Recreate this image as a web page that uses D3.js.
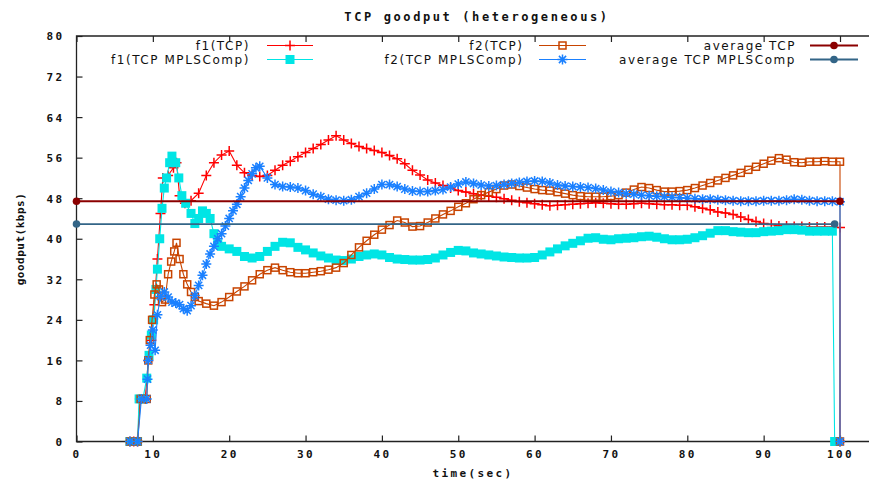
<!DOCTYPE html>
<html>
<head>
<meta charset="utf-8">
<script src="https://cdn.jsdelivr.net/npm/d3@7"></script>
<style>
body { margin: 0; background: #fff; }
svg { display: block; }
.mono { font-family: "DejaVu Sans Mono", monospace; font-weight: bold; font-size: 11px; letter-spacing: 2.4px; fill: #111; }
.key { font-family: "DejaVu Sans", sans-serif; font-size: 12px; letter-spacing: 1.55px; fill: #111; }
</style>
</head>
<body>
<svg id="chart" width="869" height="481"></svg>
<script>
// ---- data (time in sec, goodput in kbps)
var xTicks = [0, 10, 20, 30, 40, 50, 60, 70, 80, 90, 100];
var yTicks = [0, 8, 16, 24, 32, 40, 48, 56, 64, 72, 80];

var f1Tcp = [[7,0],[7.5,0],[8,0],[8.3,8.4],[9,8.4],[9.4,16],[9.8,20],[10.2,27],[10.6,36],[11,45],[11.3,52],[12,52.5],[12.7,54],
  [13.1,55],[13.5,48.5],[14.2,47],[15,47.5],[16,49],[17,52.5],[18,55],[19,56.5],[20,57.3],[21,54.5],[22,53],[23,52.5],[24,52.3],
  [25,52.5],[26,53.5],[27,54.5],[28,55.3],[29,56.2],[30,57],[31,57.8],[32,58.6],[33,59.5],[34,60.3],[35,59.5],[36,58.8],[37,58.2],
  [38,57.8],[39,57.4],[40,57],[41,56.4],[42,55.8],[43,54.8],[44,53.5],[45,52.6],[46,51.6],[47,51],[48,50.5],[49,50],[50,49.5],
  [51,49.2],[52,48.9],[53,48.6],[54,48.4],[55,48.2],[56,47.9],[57,47.6],[58,47.3],[59,47.1],[60,46.9],[61,46.7],[62,46.5],
  [63,46.6],[64,46.7],[65,46.8],[66,46.9],[67,47],[68,47.1],[69,47],[70,46.9],[71,46.8],[72,46.8],[73,46.9],[74,47],[75,46.9],
  [76,46.8],[77,46.7],[78,46.7],[79,46.6],[80,46.6],[81,46.3],[82,46],[83,45.7],[84,45.3],[85,45.1],[86,44.8],[87,44.3],
  [88,43.8],[89,43.4],[90,43],[91,42.8],[92,42.5],[93,42.5],[94,42.4],[95,42.4],[96,42.3],[97,42.3],[98,42.3],[99,42.3],
  [100,42.2],[100,0]];

var f1Mpls = [[7,0],[7.5,0],[8,0],[8.2,8.4],[8.7,8.4],[9.2,12.5],[9.5,17],[9.8,21],[10.1,24],[10.4,30],[10.6,34],[10.9,40],
  [11.2,46],[11.5,50],[11.8,52],[12.2,55],[12.5,56.3],[13,55],[13.4,52],[13.8,48.5],[14.3,47],[15,45],[15.5,43],[16,44],
  [16.5,45.5],[17,45],[17.5,44],[18,41],[18.5,39],[19,38.5],[20,38],[21,37.5],[22,36.5],[23,36.2],[24,36.5],[25,37.5],[26,38.5],
  [27,39.3],[28,39.2],[29,38.3],[30,37.8],[31,37.2],[32,36.6],[33,36.2],[34,35.8],[35,35.7],[36,36],[37,36.5],[38,36.8],[39,37],
  [40,36.8],[41,36.3],[42,36],[43,35.9],[44,35.8],[45,35.8],[46,35.9],[47,36.2],[48,36.8],[49,37.3],[50,37.7],[51,37.6],
  [52,37.2],[53,37],[54,36.8],[55,36.6],[56,36.4],[57,36.3],[58,36.2],[59,36.2],[60,36.3],[61,36.8],[62,37.4],[63,38],[64,38.6],
  [65,39.1],[66,39.6],[67,40.1],[68,40.2],[69,39.9],[70,39.8],[71,40],[72,40.1],[73,40.2],[74,40.4],[75,40.5],[76,40.3],[77,40],
  [78,39.8],[79,39.8],[80,39.9],[81,40.2],[82,40.6],[83,41.1],[84,41.6],[85,41.6],[86,41.4],[87,41.3],[88,41.2],[89,41.2],
  [90,41.4],[91,41.5],[92,41.6],[93,41.8],[94,41.8],[95,41.7],[96,41.5],[97,41.5],[98,41.5],[99,41.5],[99.3,0],[99.6,0]];

var f2Tcp = [[7,0],[8,0],[8.4,8.4],[9.2,8.4],[9.4,16],[9.6,20],[9.9,24],[10.2,29],[10.5,31],[10.8,30],[11.2,27.5],[11.6,28],
  [12,33],[12.4,35.5],[12.8,37.5],[13.1,39.2],[13.5,36],[14,33],[14.5,31],[15,29.5],[15.5,28.5],[16,27.7],[17,27.2],[18,26.8],
  [19,27.5],[20,28.5],[21,29.6],[22,30.6],[23,31.8],[24,33],[25,33.8],[26,34.3],[27,33.8],[28,33.4],[29,33.2],[30,33.2],
  [31,33.4],[32,33.6],[33,33.9],[34,34.3],[35,35.2],[36,36.8],[37,38.3],[38,39.6],[39,40.8],[40,41.8],[41,42.7],[42,43.6],
  [43,43.2],[44,42.4],[45,42.5],[46,43.2],[47,44],[48,44.8],[49,45.5],[50,46.3],[51,47],[52,47.8],[53,48.6],[54,49.2],
  [55,49.8],[56,50.5],[57,50.7],[58,50.4],[59,50.1],[60,49.8],[61,49.6],[62,49.5],[63,49.2],[64,48.9],[65,48.6],[66,48.4],
  [67,48.3],[68,48.3],[69,48.3],[70,48.4],[71,48.6],[72,49.1],[73,49.7],[74,50.2],[75,50],[76,49.6],[77,49.3],[78,49.3],
  [79,49.4],[80,49.6],[81,50],[82,50.5],[83,51],[84,51.5],[85,52],[86,52.5],[87,53],[88,53.6],[89,54.2],[90,54.8],[91,55.4],
  [92,55.9],[93,55.6],[94,55.1],[95,55],[96,55.2],[97,55.2],[98,55.3],[99,55.2],[100,55.2],[100,0]];

var f2Mpls = [[7,0],[8,0],[8.5,8.4],[9.2,8.4],[9.3,12.3],[9.4,16],[9.7,19],[10,22],[10.3,18],[10.6,25],[11,28.6],[11.5,29.5],
  [12,28.5],[12.5,27.5],[13,27.3],[13.5,27],[14,26.2],[14.5,25.8],[15,26.8],[15.5,28.8],[16,30.8],[16.5,32.8],[17,35],[17.5,37],
  [18,38.5],[18.5,40],[19,41],[19.5,42.5],[20,44],[20.5,45.5],[21,46.8],[21.5,48.3],[22,50],[22.5,51.5],[23,52.8],[23.5,54],
  [24,54.3],[25,52],[26,50.7],[27,50.3],[28,50.2],[29,50],[30,49.5],[31,48.8],[32,48.3],[33,47.8],[34,47.6],[35,47.5],[36,47.7],
  [37,48.3],[38,49],[39,49.8],[40,50.7],[41,50.7],[42,50.3],[43,49.8],[44,49.4],[45,49.3],[46,49.3],[47,49.5],[48,49.7],
  [49,50.2],[50,50.8],[51,51.2],[52,50.9],[53,50.6],[54,50.4],[55,50.5],[56,50.7],[57,50.9],[58,51.1],[59,51.3],[60,51.4],
  [61,51.3],[62,51],[63,50.6],[64,50.4],[65,50.3],[66,50.2],[67,50.1],[68,49.9],[69,49.6],[70,49.3],[71,49.1],[72,48.9],
  [73,48.8],[74,48.6],[75,48.5],[76,48.4],[77,48.3],[78,48.2],[79,48.1],[80,48],[81,47.9],[82,47.8],[83,47.8],[84,47.7],
  [85,47.6],[86,47.5],[87,47.4],[88,47.4],[89,47.4],[90,47.5],[91,47.5],[92,47.5],[93,47.6],[94,47.8],[95,47.7],[96,47.5],
  [97,47.4],[98,47.4],[99,47.4],[100,47.3],[100,0]];

var avgTcp = [[0,47.4],[100,47.4]];
var avgMpls = [[0,42.9],[99.3,42.9]];

// ---- drawing
var W = 869, H = 481;
var svg = d3.select("#chart");
var x = d3.scaleLinear().domain([0, 100]).range([76.5, 840]);
var y = d3.scaleLinear().domain([0, 80]).range([441.5, 36]);

// marker shapes (gnuplot-like point types)
var shapes = {
  plus: function (g) { g.append("path").attr("d", "M-5,0H5M0,-5V5").attr("fill", "none"); },
  star: function (g) { g.append("path").attr("d", "M-5,0H5M0,-5V5M-3.6,-3.6L3.6,3.6M-3.6,3.6L3.6,-3.6").attr("fill", "none"); },
  box: function (g) { g.append("rect").attr("x", -3.5).attr("y", -3.5).attr("width", 7).attr("height", 7).attr("fill", "none"); },
  fbox: function (g) { g.append("rect").attr("x", -4.5).attr("y", -4.5).attr("width", 9).attr("height", 9).attr("stroke", "none"); },
  dot: function (g) { g.append("circle").attr("r", 3.8).attr("stroke", "none"); }
};

var series = [
  { name: "f1(TCP)", data: f1Tcp, color: "#ff0000", pt: "plus", col: 0, row: 0 },
  { name: "f1(TCP MPLSComp)", data: f1Mpls, color: "#00e5e5", pt: "fbox", col: 0, row: 1 },
  { name: "f2(TCP)", data: f2Tcp, color: "#c84400", pt: "box", col: 1, row: 0 },
  { name: "f2(TCP MPLSComp)", data: f2Mpls, color: "#1a80ff", pt: "star", col: 1, row: 1 },
  { name: "average TCP", data: avgTcp, color: "#8b0000", pt: "dot", col: 2, row: 0 },
  { name: "average TCP MPLSComp", data: avgMpls, color: "#336587", pt: "dot", col: 2, row: 1 }
];

// title
svg.append("text").attr("class", "mono")
  .attr("x", 477).attr("y", 20.5).attr("text-anchor", "middle")
  .style("font-size", "12px").style("letter-spacing", "2.6px")
  .text("TCP goodput (heterogeneous)");

// axes
var axisG = svg.append("g").attr("class", "axes");

var axLeft = axisG.append("g").attr("transform", "translate(" + x(0) + ",0)")
  .call(d3.axisLeft(y).tickValues(yTicks).tickSizeInner(-6).tickSizeOuter(0).tickPadding(12).tickFormat(d3.format("d")));
var axBottom = axisG.append("g").attr("transform", "translate(0," + y(0) + ")")
  .call(d3.axisBottom(x).tickValues(xTicks).tickSizeInner(-6).tickSizeOuter(0).tickPadding(9).tickFormat(d3.format("d")));
var axTop = axisG.append("g").attr("transform", "translate(0," + y(80) + ")")
  .call(d3.axisTop(x).tickValues(xTicks).tickSizeInner(-6).tickSizeOuter(0).tickFormat(""));

[axLeft, axBottom, axTop].forEach(function (g) {
  g.select(".domain").remove();
  g.selectAll(".tick line").attr("stroke", "#222").attr("stroke-width", 1.2);
  g.selectAll(".tick text").attr("class", "mono").attr("font-family", null).attr("font-size", null);
});
axLeft.selectAll(".tick text").attr("dy", "0.36em");

axisG.append("path")
  .attr("d", "M" + W + "," + y(80) + "H" + x(0) + "V" + y(0) + "H" + W)
  .attr("fill", "none").attr("stroke", "#222").attr("stroke-width", 1.3);

// axis titles
svg.append("text").attr("class", "mono")
  .attr("x", 473).attr("y", 477).attr("text-anchor", "middle")
  .text("time(sec)");
svg.append("text").attr("class", "mono")
  .attr("transform", "translate(24,239) rotate(-90)").attr("text-anchor", "middle")
  .style("letter-spacing", "0.5px")
  .text("goodput(kbps)");

// curves
var line = d3.line().x(function (d) { return x(d[0]); }).y(function (d) { return y(d[1]); });
var plot = svg.append("g").attr("class", "plot");

series.forEach(function (s) {
  var g = plot.append("g");
  var avg = s.pt === "dot";
  g.append("path").datum(s.data).attr("d", line)
    .attr("fill", "none").attr("stroke", s.color).attr("stroke-width", avg ? 1.8 : 1.1);
  var marks = g.selectAll("g.pt").data(s.data).enter().append("g")
    .attr("class", "pt")
    .attr("transform", function (d) { return "translate(" + x(d[0]) + "," + y(d[1]) + ")"; })
    .attr("stroke", s.color).attr("fill", s.color).attr("stroke-width", 1.5);
  marks.each(function () { shapes[s.pt](d3.select(this)); });
});

// key
var keyCols = [{ textX: 250, x1: 267, x2: 313 }, { textX: 523.5, x1: 539, x2: 586 }, { textX: 796, x1: 810, x2: 858 }];
var keyRows = [45.5, 59.5];
var key = svg.append("g").attr("class", "key-box");
series.forEach(function (s) {
  var c = keyCols[s.col], ry = keyRows[s.row];
  key.append("text").attr("class", "key")
    .attr("x", c.textX).attr("y", ry).attr("dy", "0.36em").attr("text-anchor", "end")
    .text(s.name);
  key.append("line").attr("x1", c.x1).attr("x2", c.x2).attr("y1", ry).attr("y2", ry)
    .attr("stroke", s.color).attr("stroke-width", s.pt === "dot" ? 1.8 : 1.1);
  var m = key.append("g").attr("transform", "translate(" + (c.x1 + c.x2) / 2 + "," + ry + ")")
    .attr("stroke", s.color).attr("fill", s.color).attr("stroke-width", 1.5);
  shapes[s.pt](m);
});
</script>
</body>
</html>
